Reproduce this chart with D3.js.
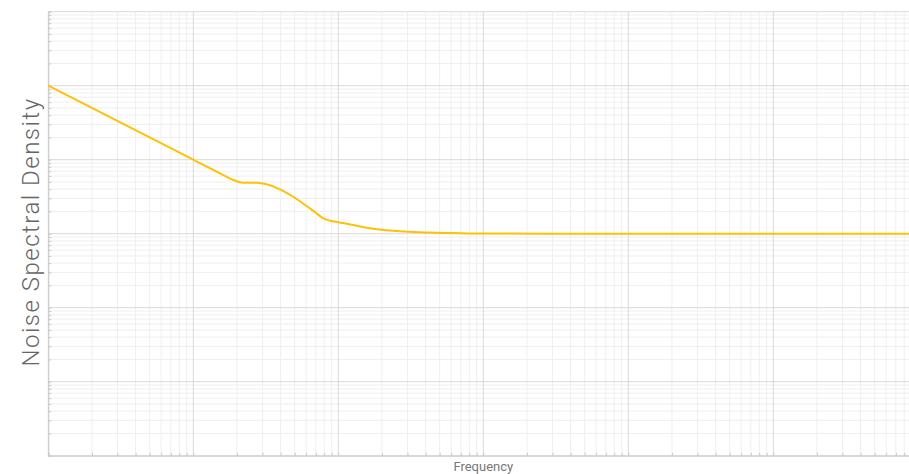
<!DOCTYPE html>
<html>
<head>
<meta charset="utf-8">
<script src="https://cdn.jsdelivr.net/npm/d3@7"></script>
<style>
  body { margin: 0; background: #fff; }
  svg { display: block; }
</style>
</head>
<body>
<svg id="chart"></svg>
<script>
// frequenze (asse x, log) e densita' (asse y, log)
var frequenze = [1, 10, 11.1, 13, 15.3, 18.9, 22.1, 24.6, 27.4, 32.1, 39.6, 51.6, 60.5, 71, 78.8, 87.7, 100, 134, 166, 216, 366, 621, 1000, 10000, 100000, 1000000];
var densita = [100000, 10000, 9000, 7700, 6550, 5320, 4890, 4900, 4890, 4650, 3980, 2944, 2367, 1875, 1615, 1500, 1425, 1282, 1183, 1111, 1044, 1021, 1005, 1000, 1000, 1000];

var xDominio = [1, 1e6];
var yDominio = [1, 1e6];

var titoloX = "Frequency";
var titoloY = "Noise Spectral Density";

var width = 909, height = 474;
// attenzione: "top" e' riservato in window, uso altri nomi
var margSx = 48.3, margSu = 11.7, margGiu = 455.7;
var decade = 145; // pixel per decade sull'asse x

const svg = d3.select("#chart")
    .attr("width", width)
    .attr("height", height);

var x = d3.scaleLog().domain(xDominio).range([margSx, margSx + decade * 6]);
var y = d3.scaleLog().domain(yDominio).range([margGiu, margSu]);

// valori per la griglia: decadi e suddivisioni 2..9
function tickMinori(dom) {
    var out = [];
    for (var e = Math.log10(dom[0]); e < Math.log10(dom[1]); e++) {
        for (var k = 2; k <= 9; k++) out.push(k * Math.pow(10, e));
    }
    return out;
}
function tickMaggiori(dom) {
    var out = [];
    for (var e = Math.log10(dom[0]); e <= Math.log10(dom[1]); e++) out.push(Math.pow(10, e));
    return out;
}

var griglia = svg.append("g").attr("class", "griglia");

// griglia minore
griglia.selectAll(".xmin")
    .data(tickMinori(xDominio))
    .enter().append("line")
    .attr("x1", d => x(d)).attr("x2", d => x(d))
    .attr("y1", margSu).attr("y2", margGiu)
    .attr("stroke", "#efefef");

griglia.selectAll(".ymin")
    .data(tickMinori(yDominio))
    .enter().append("line")
    .attr("x1", margSx).attr("x2", x(xDominio[1]))
    .attr("y1", d => y(d)).attr("y2", d => y(d))
    .attr("stroke", "#efefef");

// griglia maggiore
griglia.selectAll(".xmag")
    .data(tickMaggiori(xDominio))
    .enter().append("line")
    .attr("x1", d => x(d)).attr("x2", d => x(d))
    .attr("y1", margSu).attr("y2", margGiu)
    .attr("stroke", "#d9d9d9");

griglia.selectAll(".ymag")
    .data(tickMaggiori(yDominio))
    .enter().append("line")
    .attr("x1", margSx).attr("x2", x(xDominio[1]))
    .attr("y1", d => y(d)).attr("y2", d => y(d))
    .attr("stroke", "#d9d9d9");

// assi con tacche verso l'interno
var assex = d3.axisBottom(x).tickValues(tickMinori(xDominio).concat(tickMaggiori(xDominio)))
    .tickSize(-3).tickFormat("");
var assey = d3.axisLeft(y).tickValues(tickMinori(yDominio).concat(tickMaggiori(yDominio)))
    .tickSize(-3).tickFormat("");

svg.append("g")
    .attr("transform", "translate(0," + margGiu + ")")
    .call(assex)
    .call(g => g.select(".domain").attr("stroke", "#c8c8c8"))
    .call(g => g.selectAll(".tick line").attr("stroke", "#c8c8c8"));

svg.append("g")
    .attr("transform", "translate(" + margSx + ",0)")
    .call(assey)
    .call(g => g.select(".domain").attr("stroke", "#c8c8c8"))
    .call(g => g.selectAll(".tick line").attr("stroke", "#c8c8c8"));

// linea della densita' spettrale
const lineGenerator = d3.line()
    .x((d, i) => x(frequenze[i]))
    .y(d => y(d))
    .curve(d3.curveMonotoneX);

svg.append("path")
    .attr("d", lineGenerator(densita))
    .attr("fill", "none")
    .attr("stroke", "#ffc107")
    .attr("stroke-width", 2);

// titoli
svg.append("text")
    .attr("x", margSx + decade * 3)
    .attr("y", 471)
    .attr("text-anchor", "middle")
    .style("font-family", "Roboto")
    .style("font-size", "13px")
    .style("fill", "#777")
    .text(titoloX);

svg.append("text")
    .attr("transform", "translate(39,232) rotate(-90)")
    .attr("text-anchor", "middle")
    .style("font-family", "Roboto")
    .style("font-weight", 300)
    .style("font-size", "24px")
    .style("letter-spacing", "1.5px")
    .style("fill", "#666")
    .text(titoloY);
</script>
</body>
</html>
